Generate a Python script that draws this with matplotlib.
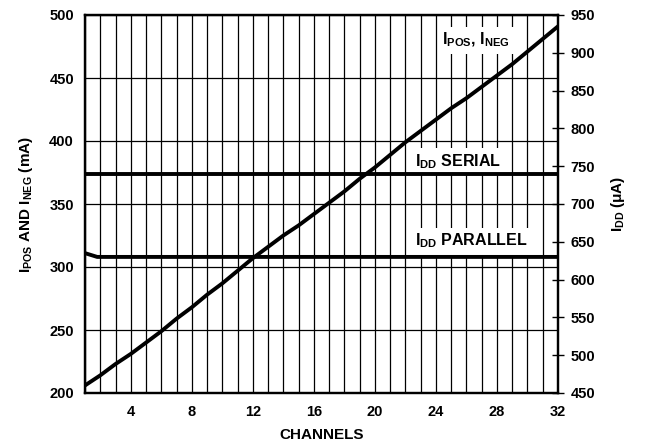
import matplotlib
matplotlib.use("Agg")
import matplotlib.pyplot as plt
from matplotlib.ticker import MultipleLocator, FixedLocator

plt.rcParams['font.family'] = ['Liberation Sans', 'DejaVu Sans']
plt.rcParams['font.weight'] = 'bold'
plt.rcParams['mathtext.fontset'] = 'custom'
plt.rcParams['mathtext.rm'] = 'Liberation Sans:bold'
plt.rcParams['mathtext.it'] = 'Liberation Sans:bold'
plt.rcParams['mathtext.bf'] = 'Liberation Sans:bold'
plt.rcParams['mathtext.default'] = 'rm'

# Supply current vs. number of active channels
channels = list(range(1, 33))
i_pos_neg_ma = [206, 214, 223, 231, 240, 249, 259, 268, 278, 287, 297, 307,
                316, 325, 333, 342, 351, 360, 370, 379, 389, 399, 408, 417,
                426, 434, 443, 452, 461, 471, 481, 491]

# Logic supply current (uA)
idd_serial_x = [1, 32]
idd_serial_ua = [740, 740]
idd_parallel_x = [1, 1.8, 32]
idd_parallel_ua = [635, 630, 630]

left_ticks = [200, 250, 300, 350, 400, 450, 500]
right_ticks = [450, 500, 550, 600, 650, 700, 750, 800, 850, 900, 950]
x_ticks = [4, 8, 12, 16, 20, 24, 28, 32]

fig = plt.figure(figsize=(6.49, 4.46), dpi=100)
ax = fig.add_axes([85/649, 53/446, 473/649, 378/446])
ax2 = ax.twinx()

ax.set_xlim(1, 32)
ax.set_ylim(200, 500)
ax2.set_ylim(450, 950)

ax.xaxis.set_major_locator(FixedLocator(x_ticks))
ax.xaxis.set_minor_locator(MultipleLocator(1))
ax.yaxis.set_major_locator(FixedLocator(left_ticks))
ax2.yaxis.set_major_locator(FixedLocator(right_ticks))

ax.grid(True, which='both', axis='x', color='black', linewidth=0.9)
ax.grid(True, which='major', axis='y', color='black', linewidth=0.9)

ax.tick_params(axis='x', which='both', length=0, labelsize=10.5, pad=9)
ax.tick_params(axis='y', which='both', length=0, labelsize=10.5, pad=8)
ax2.tick_params(axis='y', direction='inout', length=8, width=1,
                labelsize=10.5, pad=5)

for a in (ax, ax2):
    for s in a.spines.values():
        s.set_linewidth(1.6)

ax.plot(channels, i_pos_neg_ma, color='black', linewidth=2.8,
        solid_joinstyle='round', zorder=4)
ax2.plot(idd_serial_x, idd_serial_ua, color='black', linewidth=2.8, zorder=4)
ax2.plot(idd_parallel_x, idd_parallel_ua, color='black', linewidth=2.8, zorder=4)

box = dict(facecolor='white', edgecolor='none', pad=3)
ax.text(24.4, 480, r'I$_{\rm POS}$, I$_{\rm NEG}$', fontsize=11.5,
        fontweight='bold', ha='left', va='center', bbox=box, zorder=3)
ax2.text(22.6, 756, r'I$_{\rm DD}$ SERIAL', fontsize=11.5,
         fontweight='bold', ha='left', va='center', bbox=box, zorder=3)
ax2.text(22.6, 651, r'I$_{\rm DD}$ PARALLEL', fontsize=11.5,
         fontweight='bold', ha='left', va='center', bbox=box, zorder=3)

ax.set_xlabel('CHANNELS', fontsize=11, fontweight='bold', labelpad=6)
ax.set_ylabel(r'I$_{\rm POS}$ AND I$_{\rm NEG}$ (mA)', fontsize=11,
              fontweight='bold', labelpad=10)
ax2.set_ylabel(r'I$_{\rm DD}$ ($\mu$A)', fontsize=11, fontweight='bold',
               labelpad=10)

fig.savefig('out.png', dpi=100)
